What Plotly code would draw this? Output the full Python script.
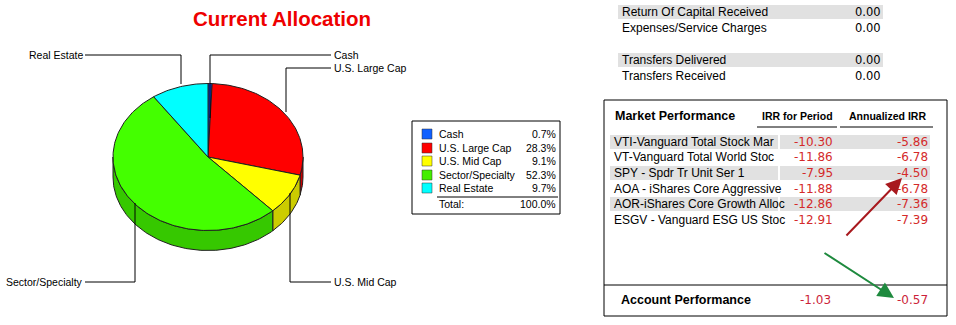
import numpy as np
import plotly.graph_objects as go

# ---------------- data ----------------
categories = ["Cash", "U.S. Large Cap", "U.S. Mid Cap", "Sector/Specialty", "Real Estate"]
alloc_pct = [0.7, 28.3, 9.1, 52.3, 9.7]
alloc_total = 100.0

cash_flow_labels = ["Return Of Capital Received", "Expenses/Service Charges",
                    "Transfers Delivered", "Transfers Received"]
cash_flow_values = [0.00, 0.00, 0.00, 0.00]

funds = ["VTI-Vanguard Total Stock Mar", "VT-Vanguard Total World Stoc",
         "SPY - Spdr Tr Unit Ser 1", "AOA - iShares Core Aggressive",
         "AOR-iShares Core Growth Alloc", "ESGV - Vanguard ESG US Stoc"]
irr_period = [-10.30, -11.86, -7.95, -11.88, -12.86, -12.91]
irr_annual = [-5.86, -6.78, -4.50, -6.78, -7.36, -7.39]

account_label = "Account Performance"
account_irr_period = -1.03
account_irr_annual = -0.57

# ---------------- styles ----------------
top_colors = ["#0a4cff", "#ff0000", "#ffff00", "#44ff00", "#00ffff"]
side_colors = ["#0838c0", "#c80000", "#cccc00", "#36c800", "#00c8c8"]
legend_colors = ["#1060ff", "#ff0000", "#ffff00", "#44ee00", "#00ffff"]
RED_NUM = "#d42a2a"
SANS = "Liberation Sans, Arial, sans-serif"
NUMF = "DejaVu Sans, Verdana, sans-serif"

fig = go.Figure()

# ---------------- 3D elliptical pie ----------------
cx, cy, rx, ry, depth = 208, 157, 95, 73.5, 20
fr = np.array(alloc_pct) / np.sum(alloc_pct)
ends = np.cumsum(fr) * 2 * np.pi
starts = ends - fr * 2 * np.pi


def arc(t0, t1, dy=0.0):
    n = max(3, int(abs(t1 - t0) / 0.02) + 2)
    t = np.linspace(t0, t1, n)
    return cx + rx * np.sin(t), cy - ry * np.cos(t) + dy


# sides (lower half, theta in [pi/2, 3pi/2])
for i in range(len(categories)):
    a = max(starts[i], np.pi / 2)
    b = min(ends[i], 3 * np.pi / 2)
    if b <= a:
        continue
    x1, y1 = arc(a, b)
    x2, y2 = arc(b, a, depth)
    xs = np.concatenate([x1, x2, x1[:1]])
    ys = np.concatenate([y1, y2, y1[:1]])
    fig.add_trace(go.Scatter(x=xs, y=ys, mode="lines", fill="toself",
                             fillcolor=side_colors[i],
                             line=dict(color="#202020", width=1),
                             hoverinfo="skip", showlegend=False))

# top faces
for i in range(len(categories)):
    x1, y1 = arc(starts[i], ends[i])
    xs = np.concatenate([[cx], x1, [cx]])
    ys = np.concatenate([[cy], y1, [cy]])
    fig.add_trace(go.Scatter(x=xs, y=ys, mode="lines", fill="toself",
                             fillcolor=top_colors[i],
                             line=dict(color="#202020", width=1),
                             name=categories[i], hoverinfo="name", showlegend=False))

shapes = []
annotations = []


def line(x0, y0, x1, y1, color="black", width=1):
    shapes.append(dict(type="line", xref="x", yref="y", x0=x0, y0=y0, x1=x1, y1=y1,
                       line=dict(color=color, width=width), layer="above"))


def rect(x0, y0, x1, y1, fill=None, lc=None, lw=1, layer="below"):
    shapes.append(dict(type="rect", xref="x", yref="y", x0=x0, y0=y0, x1=x1, y1=y1,
                       fillcolor=fill if fill else "rgba(0,0,0,0)",
                       line=dict(color=lc if lc else "rgba(0,0,0,0)", width=lw if lc else 0),
                       layer=layer))


def text(x, y, s, size=12, color="black", xanchor="left", bold=False, family=SANS):
    annotations.append(dict(x=x, y=y, xref="x", yref="y", text=("<b>%s</b>" % s) if bold else s,
                            showarrow=False, xanchor=xanchor, yanchor="middle",
                            font=dict(family=family, size=size, color=color)))


# title
text(282, 18, "Current Allocation", size=20.5, color="#ee0000", xanchor="center", bold=True)

# pie leader lines + labels
lbl_size = 10.5
# Real Estate
line(85, 55, 181, 55); line(181, 55, 181, 84)
text(85, 55, categories[4], size=lbl_size, xanchor="right")
# Cash
line(210, 55, 331, 55); line(210, 55, 210, 118)
text(332, 55, categories[0], size=lbl_size)
# U.S. Large Cap
line(286, 68, 331, 68); line(286, 68, 286, 112)
text(332, 68, categories[1], size=lbl_size)
# Sector/Specialty
line(85, 282, 135, 282); line(135, 282, 135, 203)
text(85, 282, categories[3], size=lbl_size, xanchor="right")
# U.S. Mid Cap
line(290, 282, 331, 282); line(290, 282, 290, 193)
text(332, 282, categories[2], size=lbl_size)

# ---------------- legend box ----------------
rect(412, 121, 560, 214, fill="white", lc="black", lw=1)
row_y = [134, 148, 161, 175, 188]
for i, c in enumerate(categories):
    rect(422, row_y[i] - 5, 432, row_y[i] + 5, fill=legend_colors[i], lc="#333333", lw=0.5, layer="above")
    text(437, row_y[i], c, size=10.5)
    text(558, row_y[i], "%.1f%%" % alloc_pct[i], size=10.5, xanchor="right")
line(437, 197, 558, 197, width=1)
text(437, 204, "Total:", size=10.5)
text(558, 204, "%.1f%%" % alloc_total, size=10.5, xanchor="right")

# ---------------- cash-flow table ----------------
cf_y = [12, 28, 60, 76]
for i, (lab, val) in enumerate(zip(cash_flow_labels, cash_flow_values)):
    if i in (0, 2):
        rect(618, cf_y[i] - 7, 883, cf_y[i] + 7, fill="#e1e1e1")
    text(620, cf_y[i], lab, size=12)
    text(883, cf_y[i], "%.2f" % val, size=11.5, xanchor="right", family=NUMF)

# ---------------- market performance box ----------------
rect(604, 100, 947, 316, fill="rgba(0,0,0,0)", lc="black", lw=1, layer="above")
line(604, 285, 947, 285)
text(613, 116, "Market Performance", size=12.5, bold=True)
text(797, 116, "IRR for Period", size=10.5, bold=True, xanchor="center")
text(887, 116, "Annualized IRR", size=10.5, bold=True, xanchor="center")
line(757, 127, 837, 127)
line(840, 127, 933, 127)

fund_y = [142, 157, 173, 189, 204, 220]
for i, f in enumerate(funds):
    if i in (0, 2, 4):
        rect(610, fund_y[i] - 7, 778, fund_y[i] + 7, fill="#e1e1e1")
        rect(780, fund_y[i] - 7, 930, fund_y[i] + 7, fill="#e1e1e1")
    text(612, fund_y[i], f, size=12)
    text(835, fund_y[i], "%.2f" % irr_period[i], size=12, color=RED_NUM, xanchor="right", family=NUMF)
    text(930, fund_y[i], "%.2f" % irr_annual[i], size=12, color=RED_NUM, xanchor="right", family=NUMF)

text(619, 300, account_label, size=12.5, bold=True)
text(833, 300, "%.2f" % account_irr_period, size=12, color="#cc1f3a", xanchor="right", family=NUMF)
text(930, 300, "%.2f" % account_irr_annual, size=12, color="#cc1f3a", xanchor="right", family=NUMF)

# arrows
annotations.append(dict(x=902, y=178, ax=845, ay=237, xref="x", yref="y", axref="x", ayref="y",
                        showarrow=True, arrowhead=2, arrowsize=1.6, arrowwidth=2,
                        arrowcolor="#a8191e", text=""))
annotations.append(dict(x=894, y=298, ax=823, ay=252, xref="x", yref="y", axref="x", ayref="y",
                        showarrow=True, arrowhead=2, arrowsize=1.6, arrowwidth=2,
                        arrowcolor="#1e8a3e", text=""))

fig.update_layout(
    width=956, height=325,
    margin=dict(l=0, r=0, t=0, b=0),
    paper_bgcolor="white", plot_bgcolor="white",
    xaxis=dict(range=[0, 956], visible=False, fixedrange=True),
    yaxis=dict(range=[325, 0], visible=False, fixedrange=True),
    shapes=shapes, annotations=annotations, showlegend=False,
)

fig.write_html("out.html")
